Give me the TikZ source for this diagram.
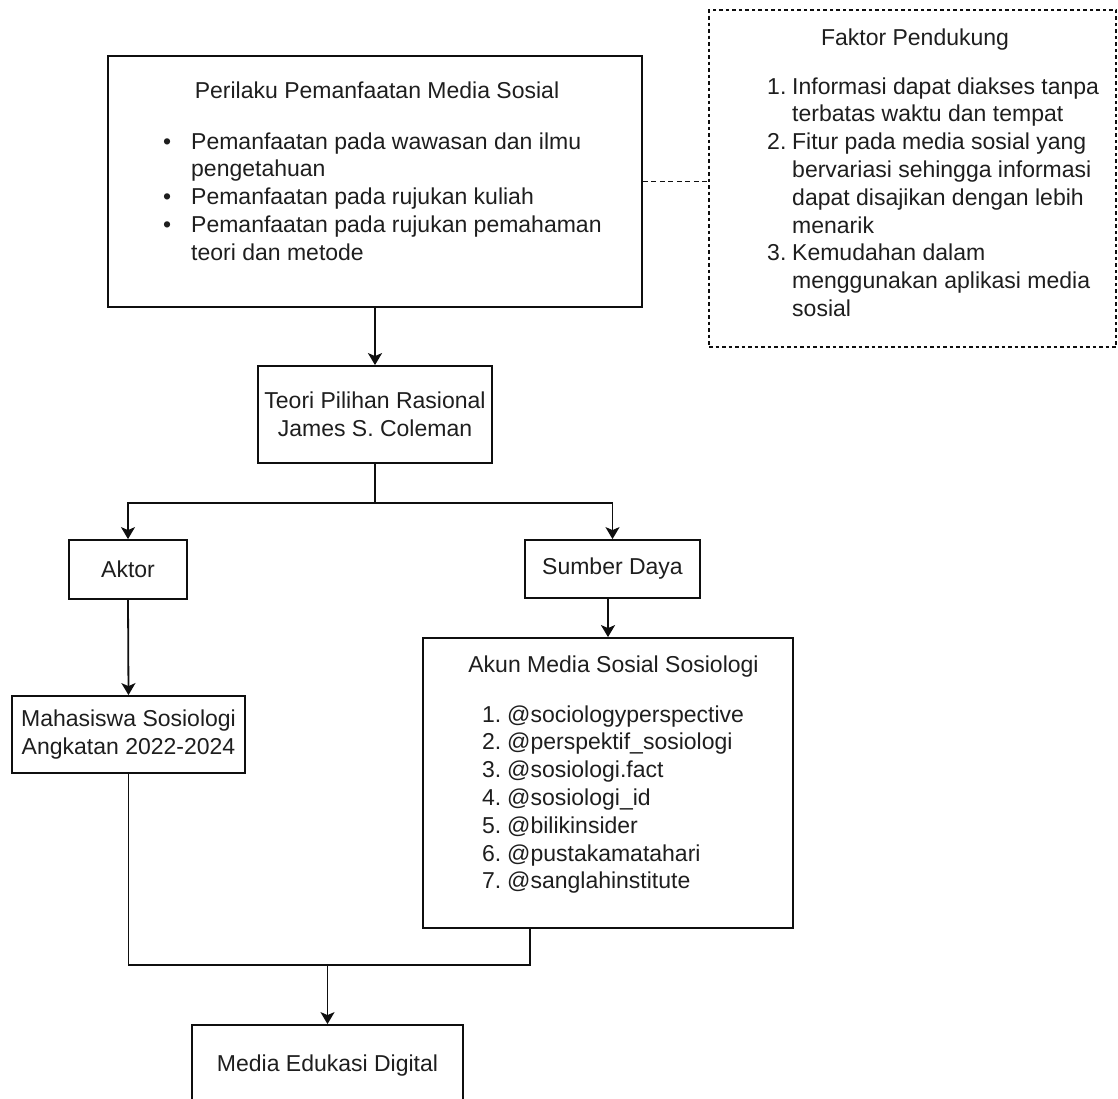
\documentclass[tikz,border=0pt]{standalone}
\usepackage{fontspec}
\setmainfont{Liberation Sans}
\usetikzlibrary{arrows.meta,calc}
\definecolor{ink}{RGB}{30,30,30}
\definecolor{edge}{RGB}{15,15,15}
\newcommand{\diagfont}{\fontsize{23}{27.8}\selectfont}
\tikzset{
  >={Stealth[length=12pt,width=14pt,inset=3pt]},
  box/.style={draw=edge,line width=1.8pt,inner sep=0pt,align=center,
    text=ink,font=\diagfont},
  dashed box/.style={draw=edge,line width=1.6pt,dash pattern=on 3.5pt off 3pt,
    inner sep=0pt},
  flow/.style={->,line width=1.8pt,draw=edge},
  link/.style={line width=1.8pt,draw=edge},
  tag/.style={text=ink,font=\diagfont,inner sep=0pt,align=left},
}

\begin{document}
\begin{tikzpicture}[x=1pt,y=-1pt]
  \useasboundingbox (0,0) rectangle (1118,1098);
  \clip (0,0) rectangle (1118,1098);

  % behaviour box
  \node[box,minimum width=534pt,minimum height=251pt] (perilaku) at (375,181.5) {};
  \node[tag,anchor=base] (perilakuTitle) at (377,98) {Perilaku Pemanfaatan Media Sosial};
  \node[tag,anchor=base west] (perilakuList) at (163,149) {%
    \begin{tabular}[t]{@{}p{28pt}@{}l@{}}
      \textbullet & Pemanfaatan pada wawasan dan ilmu\\
                  & pengetahuan\\
      \textbullet & Pemanfaatan pada rujukan kuliah\\
      \textbullet & Pemanfaatan pada rujukan pemahaman\\
                  & teori dan metode
    \end{tabular}};

  % supporting factors
  \node[dashed box,minimum width=407pt,minimum height=337pt] (faktor) at (912.5,178.5) {};
  \node[tag,anchor=base] (faktorTitle) at (915,45) {Faktor Pendukung};
  \node[tag,anchor=base west] (faktorList) at (767,94) {%
    \begin{tabular}[t]{@{}p{25pt}@{}l@{}}
      1. & Informasi dapat diakses tanpa\\
         & terbatas waktu dan tempat\\
      2. & Fitur pada media sosial yang\\
         & bervariasi sehingga informasi\\
         & dapat disajikan dengan lebih\\
         & menarik\\
      3. & Kemudahan dalam\\
         & menggunakan aplikasi media\\
         & sosial
    \end{tabular}};

  \node[box,minimum width=234pt,minimum height=97pt] (teori) at (375,414.5)
    {Teori Pilihan Rasional\\James S. Coleman};
  \node[box,minimum width=118pt,minimum height=59pt] (aktor) at (128,569.5) {Aktor};
  \node[box,minimum width=175pt,minimum height=58pt] (sumber) at (612.5,569) {Sumber Daya};
  \node[box,minimum width=233pt,minimum height=77pt] (mahasiswa) at (128.5,734.5)
    {Mahasiswa Sosiologi\\Angkatan 2022-2024};

  % accounts
  \node[box,minimum width=370pt,minimum height=290pt] (akun) at (608,783) {};
  \node[tag,anchor=base] (akunTitle) at (613.5,672) {Akun Media Sosial Sosiologi};
  \node[tag,anchor=base west] (akunList) at (482,722) {%
    \begin{tabular}[t]{@{}p{25pt}@{}l@{}}
      1. & @sociologyperspective\\
      2. & @perspektif\_sosiologi\\
      3. & @sosiologi.fact\\
      4. & @sosiologi\_id\\
      5. & @bilikinsider\\
      6. & @pustakamatahari\\
      7. & @sanglahinstitute
    \end{tabular}};

  \node[box,minimum width=271pt,minimum height=82pt] (media) at (327.5,1066) {Media Edukasi Digital};

  % connectors
  \draw[link,dash pattern=on 5pt off 3.5pt] (perilaku.east) -- (perilaku.east -| faktor.west);
  \draw[flow,line width=2.4pt] (perilaku.south) -- (teori.north);
  \coordinate (split) at ([yshift=-39pt]teori.south);
  \draw[link] (teori.south) -- (split);
  \draw[flow] (split) -| (aktor.north);
  \draw[flow] (split) -| (sumber.north);
  \draw[flow,line width=2.4pt] (sumber.south -| akun.north) -- (akun.north);
  \draw[flow] (aktor.south) -- (mahasiswa.north);
  \coordinate (akunfoot) at ([xshift=-78pt]akun.south);
  \coordinate (merge) at (327.5,965);
  \draw[link] (mahasiswa.south) |- (akunfoot |- merge) -- (akunfoot);
  \draw[flow] (merge) -- (media.north);
\end{tikzpicture}
\end{document}
